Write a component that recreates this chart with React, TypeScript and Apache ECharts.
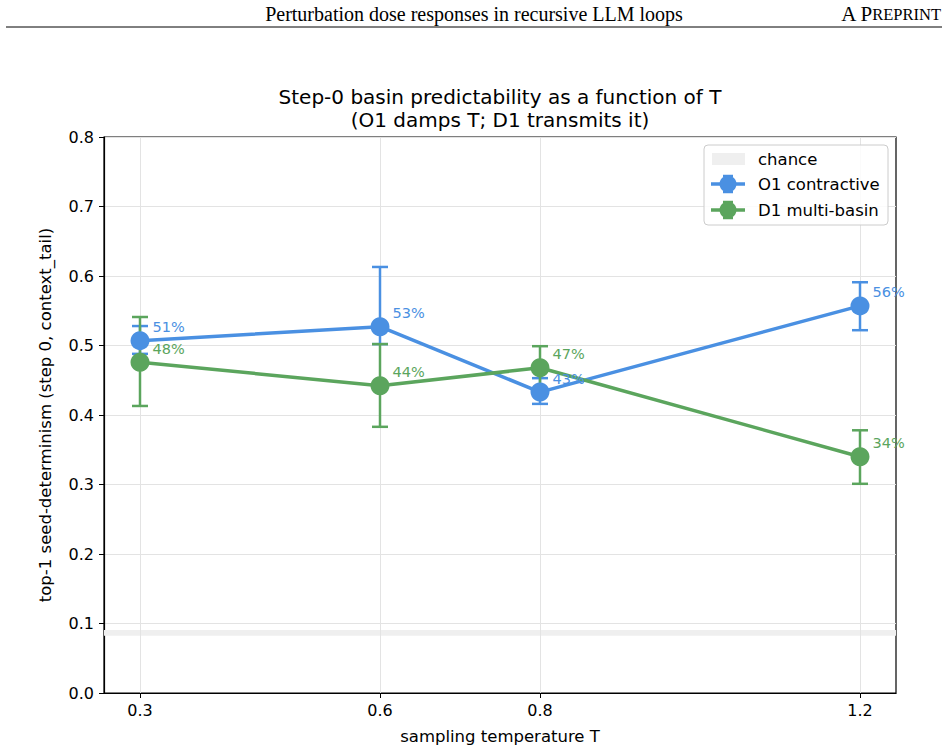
import React, { useEffect, useRef } from "react";
import * as echarts from "echarts";

// Sampling temperatures on the x axis
const temperatures = [0.3, 0.6, 0.8, 1.2];
const xTickValues = [0.3, 0.6, 0.8, 1.2];
const yTickValues = [0, 0.1, 0.2, 0.3, 0.4, 0.5, 0.6, 0.7, 0.8];

// O1 contractive: top-1 seed-determinism and its interval bounds
const o1Values = [0.507, 0.527, 0.433, 0.557];
const o1Low = [0.488, 0.502, 0.416, 0.522];
const o1High = [0.528, 0.613, 0.453, 0.591];

// D1 multi-basin
const d1Values = [0.476, 0.442, 0.468, 0.34];
const d1Low = [0.413, 0.383, 0.437, 0.301];
const d1High = [0.541, 0.502, 0.499, 0.378];

// Chance level band
const chanceBand = [0.0825, 0.0905];

const BLUE = "#4A90E2";
const GREEN = "#5BA55D";
const FONT = "DejaVu Sans";
const LABEL_SIZE = 16.5;

function errorBarSeries(name: string, lows: number[], highs: number[], color: string) {
  return {
    type: "custom",
    name,
    z: 3,
    silent: true,
    data: temperatures.map((t, i) => [t, lows[i], highs[i]]),
    encode: { x: 0, y: [1, 2] },
    renderItem: (_params: any, api: any) => {
      const x = api.value(0);
      const pHi = api.coord([x, api.value(2)]);
      const pLo = api.coord([x, api.value(1)]);
      const hw = 8;
      return {
        type: "group",
        children: [
          {
            type: "rect",
            shape: { x: pHi[0] - 1.25, y: pHi[1], width: 2.5, height: pLo[1] - pHi[1] },
            style: { fill: color },
          },
          {
            type: "line",
            shape: { x1: pHi[0] - hw, y1: pHi[1], x2: pHi[0] + hw, y2: pHi[1] },
            style: { stroke: color, lineWidth: 2.5 },
          },
          {
            type: "line",
            shape: { x1: pLo[0] - hw, y1: pLo[1], x2: pLo[0] + hw, y2: pLo[1] },
            style: { stroke: color, lineWidth: 2.5 },
          },
        ],
      };
    },
  };
}

function lineSeries(name: string, values: number[], color: string) {
  return {
    type: "line",
    name,
    z: 4,
    data: temperatures.map((t, i) => [t, values[i]]),
    symbol: "circle",
    symbolSize: 19,
    itemStyle: { color },
    lineStyle: { color, width: 3.5 },
    label: {
      show: true,
      position: [22, -4],
      align: "left",
      verticalAlign: "middle",
      color,
      fontFamily: FONT,
      fontSize: 14.5,
      formatter: (p: any) => `${Math.round(p.value[1] * 100)}%`,
    },
  };
}

function legendGraphic() {
  const entry = (y: number, color: string, label: string) => [
    { type: "line", shape: { x1: 711, y1: y, x2: 745, y2: y }, style: { stroke: color, lineWidth: 3.5 } },
    { type: "rect", shape: { x: 726.75, y: y - 8, width: 2.5, height: 16 }, style: { fill: color } },
    { type: "line", shape: { x1: 723, y1: y - 8, x2: 733, y2: y - 8 }, style: { stroke: color, lineWidth: 2.5 } },
    { type: "line", shape: { x1: 723, y1: y + 8, x2: 733, y2: y + 8 }, style: { stroke: color, lineWidth: 2.5 } },
    { type: "circle", shape: { cx: 728, cy: y, r: 8.5 }, style: { fill: color } },
    {
      type: "text",
      x: 758,
      y,
      style: { text: label, fontFamily: FONT, fontSize: LABEL_SIZE, fill: "#000", verticalAlign: "middle" },
    },
  ];
  return [
    {
      type: "rect",
      shape: { x: 704, y: 145, width: 184, height: 80, r: 4 },
      style: { fill: "rgba(255,255,255,0.85)", stroke: "#cccccc", lineWidth: 1 },
      z: 10,
    },
    { type: "rect", shape: { x: 712, y: 153, width: 33, height: 12 }, style: { fill: "#efefef" }, z: 11 },
    {
      type: "text",
      x: 758,
      y: 159,
      z: 11,
      style: { text: "chance", fontFamily: FONT, fontSize: LABEL_SIZE, fill: "#000", verticalAlign: "middle" },
    },
    ...entry(184, BLUE, "O1 contractive").map((e) => ({ ...e, z: 11 })),
    ...entry(210, GREEN, "D1 multi-basin").map((e) => ({ ...e, z: 11 })),
  ];
}

export default function App() {
  const ref = useRef<HTMLDivElement>(null);

  useEffect(() => {
    if (!ref.current) return;
    const chart = echarts.init(ref.current, null, { renderer: "svg" });

    const option: any = {
      animation: false,
      backgroundColor: "#ffffff",
      textStyle: { fontFamily: FONT },
      grid: {
        left: 104,
        right: 52,
        top: 137,
        bottom: 59,
        show: true,
        borderColor: "#000",
        borderWidth: 1.2,
        backgroundColor: "transparent",
      },
      xAxis: {
        type: "value",
        min: 0.255,
        max: 1.245,
        name: "sampling temperature T",
        nameLocation: "middle",
        nameGap: 35,
        nameTextStyle: { fontFamily: FONT, fontSize: LABEL_SIZE, color: "#000" },
        axisLine: { show: true, lineStyle: { color: "#000", width: 1.2 } },
        axisTick: { show: true, customValues: xTickValues, length: 5, lineStyle: { color: "#000" } },
        axisLabel: {
          show: true,
          customValues: xTickValues,
          color: "#000",
          fontFamily: FONT,
          fontSize: 16,
          margin: 9,
          formatter: (v: number) => v.toFixed(1),
        },
        splitLine: { show: false },
      },
      yAxis: {
        type: "value",
        min: 0,
        max: 0.8,
        interval: 0.1,
        name: "top-1 seed-determinism (step 0, context_tail)",
        nameLocation: "middle",
        nameGap: 50,
        nameRotate: 90,
        nameTextStyle: { fontFamily: FONT, fontSize: LABEL_SIZE, color: "#000" },
        axisLine: { show: true, lineStyle: { color: "#000", width: 1.2 } },
        axisTick: { show: true, length: 5, lineStyle: { color: "#000" } },
        axisLabel: {
          color: "#000",
          fontFamily: FONT,
          fontSize: 16,
          margin: 10,
          customValues: yTickValues,
          formatter: (v: number) => v.toFixed(1),
        },
        splitLine: { show: true, lineStyle: { color: "#e3e3e3", width: 1 } },
      },
      graphic: [
        {
          type: "text",
          x: 474,
          y: 14,
          style: {
            text: "Perturbation dose responses in recursive LLM loops",
            fontFamily: "Liberation Serif",
            fontSize: 20,
            fill: "#000",
            align: "center",
            verticalAlign: "middle",
          },
        },
        {
          type: "text",
          x: 941,
          y: 14,
          style: {
            text: "{a|A P}{b|REPRINT}",
            align: "right",
            verticalAlign: "middle",
            rich: {
              a: { fontFamily: "Liberation Serif", fontSize: 21, fill: "#000" },
              b: { fontFamily: "Liberation Serif", fontSize: 16.5, fill: "#000" },
            },
          },
        },
        { type: "line", shape: { x1: 6, y1: 27, x2: 942, y2: 27 }, style: { stroke: "#000", lineWidth: 1 } },
        {
          type: "text",
          x: 500,
          y: 97,
          style: {
            text: "Step-0 basin predictability as a function of T",
            fontFamily: FONT,
            fontSize: 20,
            fill: "#000",
            align: "center",
            verticalAlign: "middle",
          },
        },
        {
          type: "text",
          x: 500,
          y: 120,
          style: {
            text: "(O1 damps T; D1 transmits it)",
            fontFamily: FONT,
            fontSize: 20,
            fill: "#000",
            align: "center",
            verticalAlign: "middle",
          },
        },
        ...legendGraphic(),
      ],
      series: [
        {
          type: "line",
          name: "chance",
          data: [],
          silent: true,
          markArea: {
            silent: true,
            z: 1,
            itemStyle: { color: "#efefef" },
            data: [[{ yAxis: chanceBand[0] }, { yAxis: chanceBand[1] }]],
          },
          markLine: {
            silent: true,
            z: 1,
            symbol: "none",
            label: { show: false },
            lineStyle: { color: "#e3e3e3", width: 1, type: "solid" },
            data: xTickValues.map((v) => ({ xAxis: v })),
          },
        },
        errorBarSeries("O1 contractive err", o1Low, o1High, BLUE),
        lineSeries("O1 contractive", o1Values, BLUE),
        errorBarSeries("D1 multi-basin err", d1Low, d1High, GREEN),
        lineSeries("D1 multi-basin", d1Values, GREEN),
      ],
    };

    chart.setOption(option);
    return () => chart.dispose();
  }, []);

  return (
    <div
      ref={ref}
      style={{ position: "fixed", left: 0, top: 0, width: 948, height: 752, background: "#fff" }}
    />
  );
}
